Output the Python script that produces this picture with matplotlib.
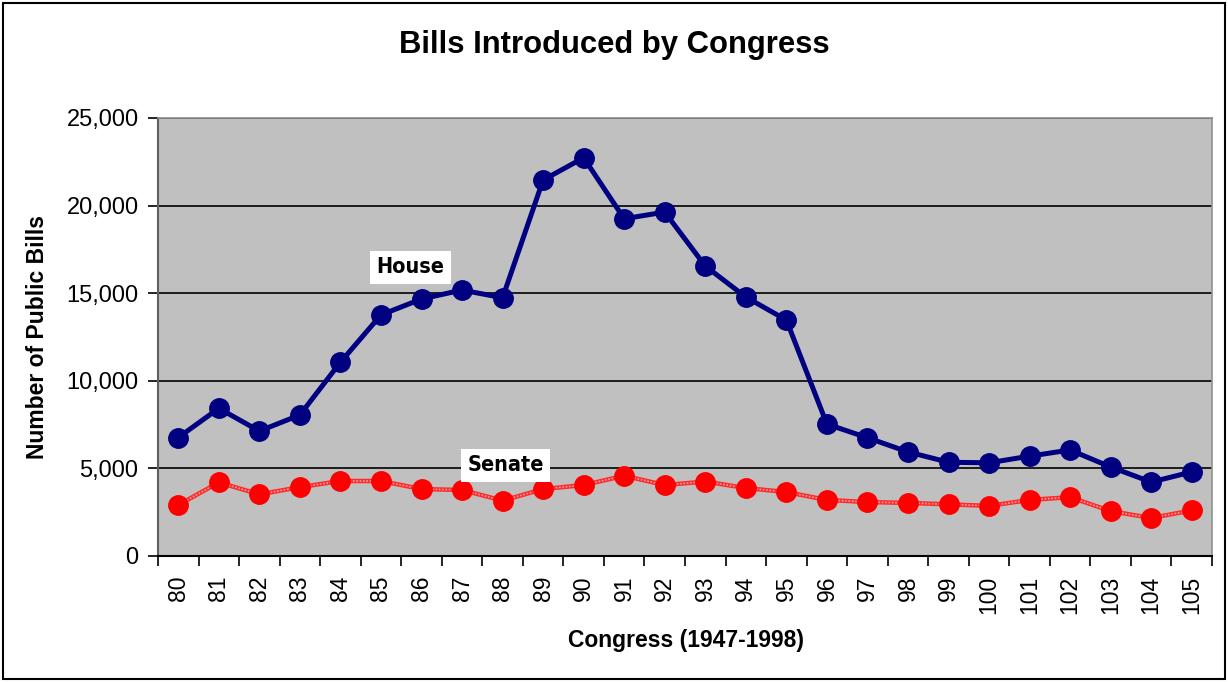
import matplotlib
matplotlib.use("Agg")
import matplotlib.pyplot as plt
from matplotlib.ticker import FuncFormatter, FixedLocator
from matplotlib.patches import Rectangle

# Congress numbers and bills introduced
congress = ['80', '81', '82', '83', '84', '85', '86', '87', '88', '89', '90', '91', '92',
            '93', '94', '95', '96', '97', '98', '99', '100', '101', '102', '103', '104', '105']
house = [6760, 8430, 7130, 8050, 11060, 13760, 14670, 15180, 14740, 21460, 22730, 19250, 19630,
         16550, 14780, 13470, 7530, 6750, 5940, 5350, 5320, 5700, 6050, 5080, 4220, 4800]
senate = [2910, 4200, 3520, 3930, 4280, 4280, 3820, 3770, 3160, 3820, 4050, 4580, 4050,
          4250, 3880, 3650, 3200, 3080, 3030, 2950, 2860, 3200, 3360, 2560, 2170, 2600]

plt.rcParams['font.family'] = ['Liberation Sans', 'DejaVu Sans']

fig = plt.figure(figsize=(12.28, 6.82), dpi=100)
ax = fig.add_axes([158 / 1228, 1 - 556 / 682, (1212 - 158) / 1228, (556 - 118) / 682])
ax.set_facecolor('#c0c0c0')

x = list(range(len(congress)))

# gridlines
ax.set_ylim(0, 25000)
ax.set_yticks(range(0, 25001, 5000))
ax.yaxis.grid(True, color='black', linewidth=1.2)
ax.set_axisbelow(True)

# House
ax.plot(x, house, color='#000080', linewidth=3.6, marker='o', markersize=14,
        markerfacecolor='#000080', markeredgecolor='#000080', zorder=3)

# Senate: red line with a lighter texture
ax.plot(x, senate, color='#ff2a2a', linewidth=3.2, zorder=3)
ax.plot(x, senate, color='#ffa0a0', linewidth=1.2, linestyle=(0, (1, 1)), zorder=3)
ax.plot(x, senate, linestyle='none', marker='o', markersize=14,
        markerfacecolor='#ff0000', markeredgecolor='#ff0000', zorder=4)

ax.set_xlim(-0.5, len(congress) - 0.5)
ax.xaxis.set_major_locator(FixedLocator(x))
ax.set_xticklabels(congress, rotation=90, fontsize=16.5, va='top')
ax.xaxis.set_minor_locator(FixedLocator([i - 0.5 for i in range(len(congress) + 1)]))
ax.tick_params(axis='x', which='major', length=0, pad=14)
ax.tick_params(axis='x', which='minor', length=7, width=1.2, direction='out')
ax.tick_params(axis='y', length=7, width=1.2, direction='out', labelsize=17, pad=7)
ax.yaxis.set_major_formatter(FuncFormatter(lambda v, p: f'{int(v):,}'))

for side in ['top', 'right']:
    ax.spines[side].set_color('#909090')
    ax.spines[side].set_linewidth(1.2)
ax.spines['left'].set_color('#606060')
ax.spines['left'].set_linewidth(1.5)
ax.spines['bottom'].set_color('black')
ax.spines['bottom'].set_linewidth(1.5)

# series labels
box = dict(boxstyle='square,pad=0.3', facecolor='white', edgecolor='none')
ax.text(5.73, 16470, 'House', ha='center', va='center', fontsize=15.5,
        family='DejaVu Sans', fontstretch='condensed', fontweight='bold', bbox=box, zorder=5)
ax.text(8.07, 5190, 'Senate', ha='center', va='center', fontsize=15.5,
        family='DejaVu Sans', fontstretch='condensed', fontweight='bold', bbox=box, zorder=5)

fig.text(614 / 1228, 1 - 45 / 682, 'Bills Introduced by Congress', ha='center', va='center',
         fontsize=22.3, fontweight='bold')
fig.text(686 / 1228, 1 - 641 / 682, 'Congress (1947-1998)', ha='center', va='center',
         fontsize=16.5, fontweight='bold')
fig.text(38 / 1228, 1 - 337 / 682, 'Number of Public Bills', ha='center', va='center',
         rotation=90, fontsize=16.5, fontweight='bold')

# outer chart border
fig.patches.append(Rectangle((3 / 1228, 3 / 682), 1222 / 1228, 676 / 682, transform=fig.transFigure,
                             fill=False, edgecolor='black', linewidth=1.5))

fig.savefig('out.png', dpi=100)
